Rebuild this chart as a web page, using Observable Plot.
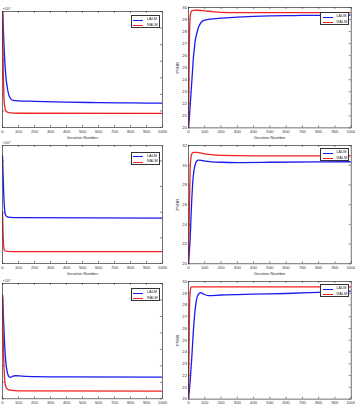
<!DOCTYPE html>
<html><head><meta charset="utf-8">
<script src="https://cdn.jsdelivr.net/npm/d3@7"></script>
<script src="https://cdn.jsdelivr.net/npm/@observablehq/plot@0.6"></script>
<style>
html,body{margin:0;padding:0;background:#fff;}
#fig{position:relative;width:355px;height:406px;overflow:hidden;font-family:"Liberation Sans",Arial,sans-serif;}
.panel{position:absolute;}
.panel svg{overflow:visible;}
.legend{position:absolute;width:29px;height:13px;border:0.6px solid #333;background:#fff;box-sizing:border-box;padding:1.4px 0 0 1.5px;}
.row{display:flex;align-items:center;height:5.6px;}
.sw{width:10px;height:1.2px;margin-right:4px;}
.lb{font-size:3.8px;line-height:5.6px;color:#222;white-space:nowrap;}
</style>
</head><body><div id="fig"></div>
<script>
const iterationTicks = [0,100,200,300,400,500,600,700,800,900,1000];
const seriesNames = ["LALM", "RALM"];
const seriesColors = ["#1a1aee", "#ee2222"];
const xLabel = "Iteration Number";
const psnrLabel = "PSNR";
const objScaleLabel = "×10⁴";

// Row 1
const obj1Ticks = [0,1,2,3,4,5,6,7];
const obj1LALM = [[0,7.3],[5,6.0],[10,4.8],[15,3.9],[20,3.2],[30,2.4],[40,1.95],[50,1.75],[60,1.66],[80,1.62],[100,1.61],[200,1.58],[400,1.53],[600,1.5],[800,1.48],[1000,1.47]];
const obj1RALM = [[0,7.3],[2,5.5],[4,4.0],[6,2.9],[8,2.1],[10,1.6],[15,1.2],[20,1.02],[30,0.93],[50,0.88],[100,0.86],[1000,0.85]];
const psnr1Ticks = [20,21,22,23,24,25,26,27,28,29,30];
const psnr1LALM = [[0,20],[5,20.8],[10,21.8],[15,22.8],[20,23.8],[25,24.8],[30,25.8],[35,26.5],[40,27.1],[50,27.8],[60,28.3],[70,28.6],[80,28.8],[100,28.95],[150,29.05],[200,29.12],[300,29.2],[400,29.26],[500,29.3],[600,29.32],[700,29.34],[800,29.35],[900,29.36],[1000,29.37]];
const psnr1RALM = [[0,20],[3,24],[6,27.5],[10,29.2],[15,29.6],[20,29.72],[40,29.78],[60,29.77],[100,29.72],[150,29.65],[200,29.6],[300,29.58],[1000,29.58]];

// Row 2
const obj2Ticks = [0,1,2,3,4];
const obj2LALM = [[0,4.2],[3,3.6],[6,3.0],[9,2.5],[12,2.2],[15,2.0],[20,1.88],[30,1.82],[50,1.8],[100,1.79],[1000,1.77]];
const obj2RALM = [[0,2.0],[3,1.3],[6,0.8],[10,0.55],[15,0.5],[30,0.47],[100,0.46],[1000,0.46]];
const psnr2Ticks = [20,22,24,26,28,30,32];
const psnr2LALM = [[0,20],[10,22.5],[15,24.5],[20,26.5],[25,28.0],[30,29.0],[40,30.0],[50,30.4],[60,30.52],[80,30.5],[100,30.42],[200,30.3],[300,30.27],[500,30.3],[1000,30.35]];
const psnr2RALM = [[0,20],[5,25],[10,29.5],[15,30.8],[20,31.15],[30,31.3],[50,31.3],[100,31.15],[200,31.0],[400,30.95],[1000,30.95]];

// Row 3
const obj3Ticks = [0,1,2,3,4,5,6,7];
const obj3LALM = [[0,6.3],[5,5.2],[10,4.0],[15,3.0],[20,2.3],[30,1.6],[40,1.35],[50,1.3],[65,1.37],[80,1.4],[120,1.38],[200,1.35],[400,1.33],[1000,1.32]];
const obj3RALM = [[0,6.3],[3,4.5],[6,3.0],[10,1.8],[15,1.0],[20,0.75],[30,0.6],[50,0.52],[100,0.48],[1000,0.47]];
const psnr3Ticks = [20,21,22,23,24,25,26,27,28,29,30];
const psnr3LALM = [[0,20],[10,21.5],[20,23.5],[30,25.8],[40,27.5],[50,28.5],[60,28.9],[75,29.06],[90,28.95],[120,28.8],[200,28.85],[400,28.92],[600,28.98],[800,29.08],[1000,29.18]];
const psnr3RALM = [[0,20],[3,24],[6,27.5],[10,29.1],[15,29.5],[20,29.55],[1000,29.55]];

const axisColor = "#333";
const textColor = "#333";

const panels = [
  {kind:"obj", lalm:obj1LALM, ralm:obj1RALM, yDomain:[0,7], yTicks:obj1Ticks, frame:[2,162,11,127], legend:[130.5,15], xTitle:true},
  {kind:"psnr", lalm:psnr1LALM, ralm:psnr1RALM, yDomain:[20,30], yTicks:psnr1Ticks, frame:[188,350.7,7.3,127.7], legend:[320,12], xTitle:true},
  {kind:"obj", lalm:obj2LALM, ralm:obj2RALM, yDomain:[0,4.6], yTicks:obj2Ticks, frame:[2,162,145,263], legend:[130.5,151.5], xTitle:true},
  {kind:"psnr", lalm:psnr2LALM, ralm:psnr2RALM, yDomain:[20,32], yTicks:psnr2Ticks, frame:[188,350.7,145,263.3], legend:[320,148], xTitle:true},
  {kind:"obj", lalm:obj3LALM, ralm:obj3RALM, yDomain:[0,7], yTicks:obj3Ticks, frame:[2,162,283.3,398.6], legend:[130.5,288], xTitle:false},
  {kind:"psnr", lalm:psnr3LALM, ralm:psnr3RALM, yDomain:[20,30], yTicks:psnr3Ticks, frame:[188,350.7,281,398.6], legend:[320,284], xTitle:false}
];

const fig = document.getElementById("fig");

function render(p) {
  const [x0,x1,y0,y1] = p.frame;
  const left = p.kind === "obj" ? 0 : 170;
  const padTop = 12, padBottom = 16;
  const width = p.kind === "obj" ? 175 : 185;
  const fw = x1 - x0, fh = y1 - y0;
  const data = [
    ...p.lalm.map(([i,v]) => ({iter:i, value:v, method:seriesNames[0]})),
    ...p.ralm.map(([i,v]) => ({iter:i, value:v, method:seriesNames[1]}))
  ];
  const tickStyle = {stroke: axisColor, strokeWidth: 0.6};
  const marks = [
    Plot.ruleX(iterationTicks, {x: d => d, insetTop: fh - 2, ...tickStyle}),
    Plot.ruleX(iterationTicks, {x: d => d, insetBottom: fh - 2, ...tickStyle}),
    Plot.ruleY(p.yTicks, {y: d => d, insetRight: fw - 2, ...tickStyle}),
    Plot.ruleY(p.yTicks, {y: d => d, insetLeft: fw - 2, ...tickStyle}),
    Plot.lineY(data, {x:"iter", y:"value", stroke:"method", strokeWidth:1.3, clip:true, curve:"monotone-x"}),
    Plot.frame({stroke: axisColor, strokeWidth: 0.7}),
    Plot.axisX(iterationTicks, {anchor:"bottom", tickSize:0, tickPadding:2.3, fontSize:4.2, fill:textColor,
      tickFormat: d => String(d),
      label: p.xTitle ? xLabel : null, labelAnchor:"center", labelArrow:"none", labelOffset:11.5})
  ];
  if (p.kind === "psnr") {
    marks.push(Plot.axisY(p.yTicks, {anchor:"left", tickSize:0, tickPadding:1.5, fontSize:4.2, fill:textColor,
      tickFormat: d => String(d),
      label:psnrLabel, labelAnchor:"center", labelArrow:"none", labelOffset:12}));
  } else {
    marks.push(Plot.text([objScaleLabel], {text: d => d, frameAnchor:"top-left", textAnchor:"start", lineAnchor:"bottom", dy:-1.2, fontSize:4, fill:textColor}));
  }
  const chart = Plot.plot({
    width, height: fh + padTop + padBottom,
    marginLeft: x0 - left, marginRight: width - (x1 - left), marginTop: padTop, marginBottom: padBottom,
    style: {fontFamily: '"Liberation Sans", Arial, sans-serif', background: "transparent", overflow: "visible"},
    x: {domain:[0,1000]},
    y: {domain:p.yDomain, axis: p.kind === "psnr" ? undefined : null},
    color: {domain: seriesNames, range: seriesColors},
    marks
  });
  const wrap = document.createElement("div");
  wrap.className = "panel";
  wrap.style.left = left + "px";
  wrap.style.top = (y0 - padTop) + "px";
  wrap.appendChild(chart);
  fig.appendChild(wrap);

  const lg = document.createElement("div");
  lg.className = "legend";
  lg.style.left = p.legend[0] + "px";
  lg.style.top = p.legend[1] + "px";
  seriesNames.forEach((n, i) => {
    const row = document.createElement("div"); row.className = "row";
    const sw = document.createElement("span"); sw.className = "sw"; sw.style.background = seriesColors[i];
    const lb = document.createElement("span"); lb.className = "lb"; lb.textContent = n;
    row.appendChild(sw); row.appendChild(lb); lg.appendChild(row);
  });
  fig.appendChild(lg);
}

panels.forEach(render);
</script>
</body></html>
